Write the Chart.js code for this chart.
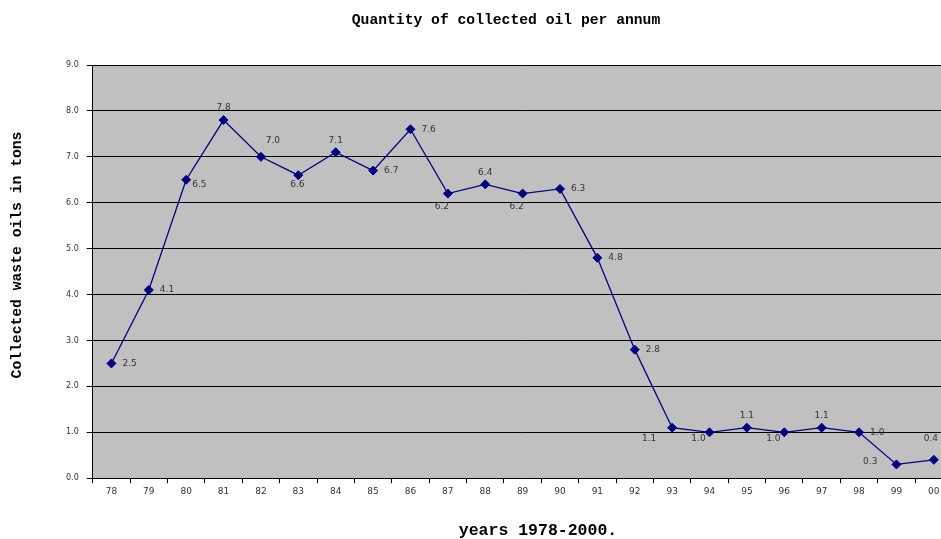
<!DOCTYPE html>
<html lang="en">
<head>
<meta charset="UTF-8">
<title>Quantity of collected oil per annum</title>
<script src="https://cdn.jsdelivr.net/npm/chart.js"></script>
<style>
  html, body { margin: 0; padding: 0; overflow: hidden; background: #fff; }
  #wrap { width: 958px; height: 539px; }
</style>
</head>
<body>
<div id="wrap"><canvas id="myChart" width="958" height="539"></canvas></div>
<script>
  const years = ['78','79','80','81','82','83','84','85','86','87','88','89','90','91','92','93','94','95','96','97','98','99','00'];
  const tons = [2.5, 4.1, 6.5, 7.8, 7.0, 6.6, 7.1, 6.7, 7.6, 6.2, 6.4, 6.2, 6.3, 4.8, 2.8, 1.1, 1.0, 1.1, 1.0, 1.1, 1.0, 0.3, 0.4];
  // where each value label sits relative to its point
  const labelSide = ['r','r','rb','a','ar','b','a','r','r','bl','a','bl','r','r','r','bll','bl2','a','bl2','a','r','l','ah'];

  const chartTitle = 'Quantity of collected oil per annum';
  const xTitle = 'years 1978-2000.';
  const yTitle = 'Collected waste oils in tons';

  // offset x, offset y, text align
  const sideOffsets = {
    r:   [11, 0, 'left'],
    rb:  [6, 5, 'left'],
    a:   [0, -12, 'center'],
    ah:  [-3, -21, 'center'],
    ar:  [12, -16, 'center'],
    b:   [-1, 9, 'center'],
    bl:  [-6, 13, 'center'],
    bl2: [-11, 6, 'center'],
    bll: [-23, 11, 'center'],
    l:   [-19, -3, 'right']
  };

  const plotBg = {
    id: 'plotBg',
    beforeDraw(chart) {
      const a = chart.chartArea, c = chart.ctx;
      c.save();
      c.fillStyle = '#c0c0c0';
      c.fillRect(a.left, a.top, a.right - a.left, a.bottom - a.top);
      c.restore();
    }
  };

  // titles are placed like the excel original, not centred on the axes
  const titles = {
    id: 'titles',
    afterDraw(chart) {
      const c = chart.ctx;
      c.save();
      c.fillStyle = '#000';
      c.textAlign = 'center';
      c.textBaseline = 'middle';
      c.font = 'bold 14.7px "Liberation Mono"';
      c.fillText(chartTitle, 506, 20);
      c.font = 'bold 16.5px "Liberation Mono"';
      c.fillText(xTitle, 538, 531);
      c.translate(17, 255);
      c.rotate(-Math.PI / 2);
      c.font = 'bold 14.7px "Liberation Mono"';
      c.fillText(yTitle, 0, 0);
      c.restore();
    }
  };

  const valueLabels = {
    id: 'valueLabels',
    afterDatasetsDraw(chart) {
      const c = chart.ctx;
      const pts = chart.getDatasetMeta(0).data;
      c.save();
      c.font = '9px "DejaVu Sans"';
      c.fillStyle = '#333';
      c.textBaseline = 'middle';
      pts.forEach((p, i) => {
        const o = sideOffsets[labelSide[i]];
        c.textAlign = o[2];
        c.fillText(tons[i].toFixed(1), p.x + o[0], p.y + o[1]);
      });
      c.restore();
    }
  };

  const ctx = document.getElementById('myChart').getContext('2d');
  new Chart(ctx, {
    type: 'line',
    data: {
      labels: years,
      datasets: [{
        data: tons,
        borderColor: '#000080',
        backgroundColor: '#000080',
        borderWidth: 1.3,
        pointStyle: 'rectRot',
        pointRadius: 4.5,
        pointBorderWidth: 1,
        tension: 0
      }]
    },
    options: {
      responsive: false,
      animation: false,
      layout: { padding: { top: 65, right: 0, bottom: 39, left: 58 } },
      plugins: {
        legend: { display: false },
        tooltip: { enabled: false },
        title: { display: false }
      },
      scales: {
        x: {
          offset: true,
          grid: { display: true, offset: true, drawOnChartArea: false, color: '#000', tickLength: 5 },
          border: { color: '#000', width: 1 },
          ticks: { color: '#333', font: { family: '"DejaVu Sans"', size: 9 }, padding: 3, maxRotation: 0, autoSkip: false }
        },
        y: {
          min: 0,
          max: 9,
          grid: { color: '#000', lineWidth: 1, tickLength: 6 },
          border: { color: '#000', width: 1 },
          ticks: {
            stepSize: 1,
            color: '#333',
            font: { family: '"DejaVu Sans"', size: 8 },
            padding: 8,
            callback: v => v.toFixed(1)
          }
        }
      }
    },
    plugins: [plotBg, valueLabels, titles]
  });
</script>
</body>
</html>
